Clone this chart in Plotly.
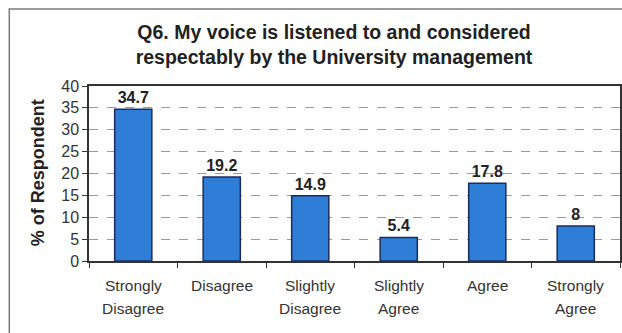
import plotly.graph_objects as go

# Survey responses for Q6
categories = ["Strongly Disagree", "Disagree", "Slightly Disagree",
              "Slightly Agree", "Agree", "Strongly Agree"]
category_lines = [["Strongly", "Disagree"], ["Disagree"], ["Slightly", "Disagree"],
                  ["Slightly", "Agree"], ["Agree"], ["Strongly", "Agree"]]
percentages = [34.7, 19.2, 14.9, 5.4, 17.8, 8]
value_labels = ["34.7", "19.2", "14.9", "5.4", "17.8", "8"]
y_ticks = [0, 5, 10, 15, 20, 25, 30, 35, 40]

W, H = 622, 333
L, R, T, B = 89, 0, 86, 72
pw, ph = W - L - R, H - T - B

font_family = "Liberation Sans, Arial, sans-serif"

fig = go.Figure()
fig.add_trace(go.Bar(
    x=categories,
    y=percentages,
    text=["<b>" + s + "</b>" for s in value_labels],
    textposition="outside",
    textfont=dict(family=font_family, size=16, color="#222222"),
    marker=dict(color="#2E7DD6", line=dict(color="#1B2C5C", width=1.5)),
    width=0.42,
    cliponaxis=False,
))

# Category labels, one annotation per text line for wider line spacing
annotations = []
line_step = 23
for cat, lines in zip(categories, category_lines):
    for i, line in enumerate(lines):
        annotations.append(dict(
            text=line, x=cat, xref="x", yref="paper",
            y=-(24 + i * line_step) / ph,
            xanchor="center", yanchor="middle", showarrow=False,
            font=dict(family=font_family, size=15.5, color="#333333"),
        ))

annotations.append(dict(
    text="<b>% of Respondent</b>",
    textangle=-90,
    xref="paper", yref="paper",
    x=(38 - L) / pw, y=(H - 173 - B) / ph,
    xanchor="center", yanchor="middle",
    showarrow=False,
    font=dict(family=font_family, size=18, color="#222222"),
))

fig.update_layout(
    width=W, height=H,
    margin=dict(l=L, r=R, t=T, b=B),
    paper_bgcolor="white",
    plot_bgcolor="white",
    showlegend=False,
    title=dict(
        text="<b>Q6. My voice is listened to and considered<br>respectably by the University management</b>",
        x=334 / W, xanchor="center",
        y=1 - 39 / H, yanchor="middle",
        font=dict(family=font_family, size=19.5, color="#222222"),
    ),
    xaxis=dict(
        showline=True, linecolor="#333333", linewidth=1.5, mirror=True,
        ticks="outside", ticklen=5, tickcolor="#333333",
        tickson="boundaries",
        showticklabels=False,
        showgrid=False,
    ),
    yaxis=dict(
        range=[0, 40],
        tickvals=y_ticks,
        showline=True, linecolor="#333333", linewidth=1.5, mirror=True,
        ticks="outside", ticklen=5, tickcolor="#333333",
        tickfont=dict(family=font_family, size=16, color="#333333"),
        showgrid=True, gridcolor="#9a9a9a", gridwidth=1, griddash="dash",
        zeroline=False,
    ),
    annotations=annotations,
    shapes=[dict(
        type="rect", xref="paper", yref="paper",
        x0=(9 - L) / pw, x1=1.1,
        y0=-0.6, y1=1 + (T - 9) / ph,
        line=dict(color="#7a7a7a", width=1.5),
        layer="below",
    )],
)

fig.write_html("out.html")
